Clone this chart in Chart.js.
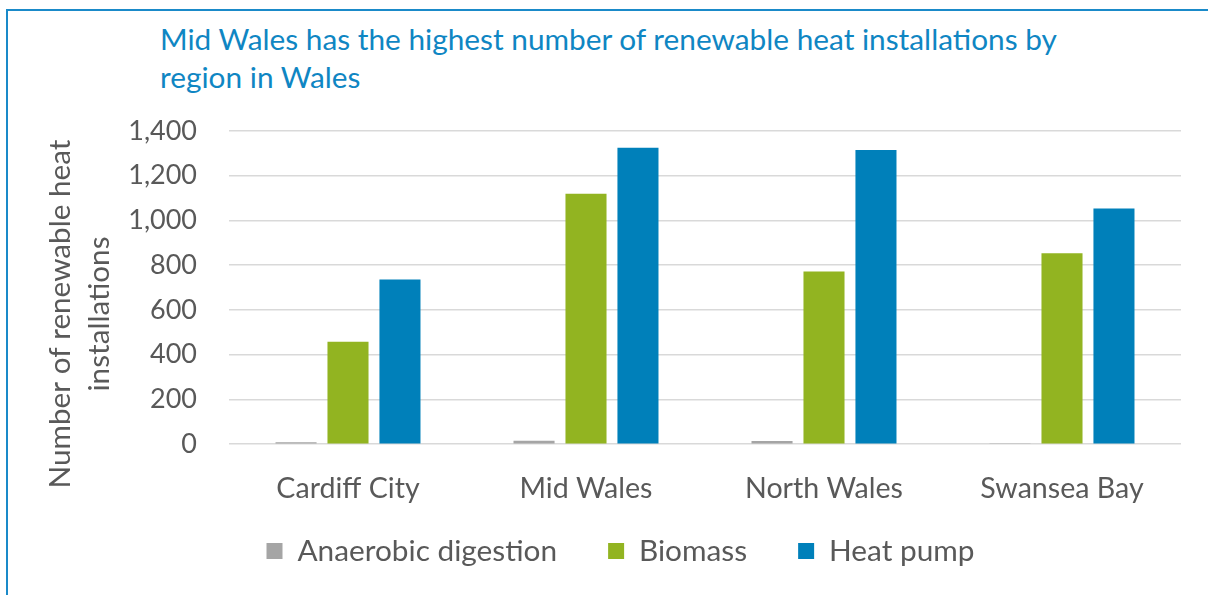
<!DOCTYPE html>
<html>
<head>
<meta charset="utf-8">
<script src="https://cdn.jsdelivr.net/npm/chart.js@4/dist/chart.umd.min.js"></script>
<style>
  html, body { margin: 0; padding: 0; background: #fff; width: 1208px; height: 595px; overflow: hidden; }
  #frame { position: absolute; left: 6px; top: 9px; width: 1210px; height: 600px;
           border-left: 2px solid #1A8AC9; border-top: 2px solid #1A8AC9; box-sizing: border-box; }
  #title { position: absolute; left: 160px; top: 20px; font-family: Lato, "Open Sans", sans-serif;
           font-size: 29.8px; line-height: 38px; color: #0F86C3; white-space: nowrap; }
  #wrap { position: absolute; left: 0; top: 0; width: 1208px; height: 595px; }
</style>
</head>
<body>
<div id="frame"></div>
<div id="title">Mid Wales has the highest number of renewable heat installations by<br>region in Wales</div>
<div id="wrap"><canvas id="c" width="1208" height="595"></canvas></div>
<script>
const categories = ['Cardiff City', 'Mid Wales', 'North Wales', 'Swansea Bay'];
const anaerobicDigestion = [9, 15, 14, 2];
const biomass = [458, 1120, 772, 853];
const heatPump = [736, 1325, 1315, 1054];
const yTicks = [0, 200, 400, 600, 800, 1000, 1200, 1400];
const yTitleLines = ['Number of renewable heat', 'installations'];

const FONT = 'Lato, "Open Sans", sans-serif';
const TEXT = '#595959';

const yTitlePlugin = {
  id: 'yTitle',
  afterLayout(chart) {
    if (chart.legend) { chart.legend.left += 30; chart.legend.right += 30; }
  },
  afterDraw(chart) {
    const ctx = chart.ctx;
    ctx.save();
    ctx.fillStyle = TEXT;
    ctx.font = '29.7px ' + FONT;
    ctx.textAlign = 'center';
    ctx.textBaseline = 'middle';
    const xs = [60, 99];
    yTitleLines.forEach((t, i) => {
      ctx.save();
      ctx.translate(xs[i], 314);
      ctx.rotate(-Math.PI / 2);
      ctx.fillText(t, 0, 0);
      ctx.restore();
    });
    ctx.restore();
  }
};

new Chart(document.getElementById('c'), {
  type: 'bar',
  data: {
    labels: categories,
    datasets: [
      { label: 'Anaerobic digestion', data: anaerobicDigestion, backgroundColor: '#A5A5A5' },
      { label: 'Biomass', data: biomass, backgroundColor: '#92B421' },
      { label: 'Heat pump', data: heatPump, backgroundColor: '#0080BA' }
    ]
  },
  options: {
    responsive: false,
    animation: false,
    devicePixelRatio: 1,
    layout: { padding: { left: 0, right: 27, top: 131, bottom: 19 } },
    datasets: { bar: { categoryPercentage: 0.655, barPercentage: 0.79 } },
    plugins: {
      legend: {
        position: 'bottom',
        labels: { boxWidth: 16, boxHeight: 16, padding: 51, color: TEXT, font: { family: FONT, size: 29.8 } }
      },
      tooltip: { enabled: false },
      title: { display: false }
    },
    scales: {
      x: {
        grid: { display: false, drawTicks: false },
        border: { display: false },
        ticks: { color: TEXT, padding: 27, font: { family: FONT, size: 28.6 } },
        afterFit(s) { s.height = 41; s._computeLabelArea = () => undefined; }
      },
      y: {
        min: 0, max: 1400,
        afterBuildTicks(s) { s.ticks = yTicks.map(v => ({ value: v })); },
        grid: { color: '#D9D9D9', lineWidth: 1.5, drawTicks: false },
        border: { display: false },
        ticks: { color: TEXT, padding: 32, font: { family: FONT, size: 27 } },
        afterFit(s) { s.width = 229; }
      }
    }
  },
  plugins: [yTitlePlugin]
});
</script>
</body>
</html>
